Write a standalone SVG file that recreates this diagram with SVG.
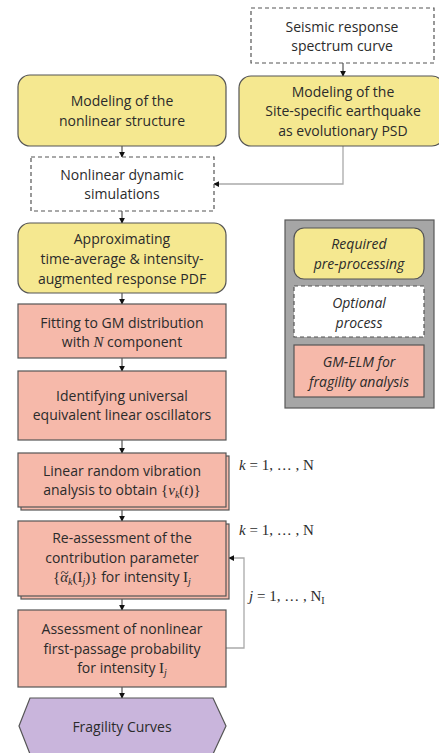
<svg xmlns="http://www.w3.org/2000/svg" width="439" height="753" viewBox="0 0 439 753">
<style>
.t{font-family:"Open Sans","Noto Sans",sans-serif;font-size:14px;fill:#2b2b2b;text-anchor:middle}
.it{font-style:italic}
.s{font-family:"Liberation Serif","DejaVu Serif",serif;font-size:15px}
.m{font-family:"Liberation Serif","DejaVu Serif",serif;font-size:15px;fill:#2b2b2b}
.y{fill:#f5e890;stroke:#555;stroke-width:1.2}
.o{fill:#fff;stroke:#555;stroke-width:1.2;stroke-dasharray:4 3}
.p{fill:#f6b9aa;stroke:#555;stroke-width:1.2}
.c{fill:none;stroke:#333;stroke-width:1}
.g{fill:none;stroke:#aaa;stroke-width:1.3}
</style>
<defs>
<marker id="a" viewBox="0 0 8 8" refX="7" refY="4" markerWidth="6" markerHeight="6" orient="auto" markerUnits="userSpaceOnUse"><path d="M0,0L8,4L0,8z" fill="#111"/></marker>
</defs>
<g id="connectors">
<line class="c" x1="343" y1="63" x2="343" y2="76" marker-end="url(#a)"/>
<line class="c" x1="122" y1="146" x2="122" y2="157" marker-end="url(#a)"/>
<polyline class="g" points="343,146 343,184 214,184" marker-end="url(#a)"/>
<line class="c" x1="122" y1="211" x2="122" y2="223" marker-end="url(#a)"/>
<line class="c" x1="122" y1="293" x2="122" y2="304" marker-end="url(#a)"/>
<line class="c" x1="122" y1="358" x2="122" y2="371" marker-end="url(#a)"/>
<line class="c" x1="122" y1="440" x2="122" y2="453" marker-end="url(#a)"/>
<line class="c" x1="122" y1="509" x2="122" y2="521" marker-end="url(#a)"/>
<line class="c" x1="122" y1="598" x2="122" y2="610" marker-end="url(#a)"/>
<line class="c" x1="122" y1="687" x2="122" y2="698" marker-end="url(#a)"/>
<polyline class="g" points="226,648 244,648 244,558 229,558" marker-end="url(#a)"/>
</g>
<g id="seismic">
<rect class="o" x="251" y="8" width="183" height="55"/>
<text class="t" x="342" y="32">Seismic response</text>
<text class="t" x="342" y="51">spectrum curve</text>
</g>
<g id="structure">
<rect class="y" x="18" y="75" width="208" height="71" rx="12"/>
<text class="t" x="122" y="106">Modeling of the</text>
<text class="t" x="122" y="126">nonlinear structure</text>
</g>
<g id="earthquake">
<rect class="y" x="239" y="76" width="205" height="70" rx="12"/>
<text class="t" x="343" y="97">Modeling of the</text>
<text class="t" x="343" y="116">Site-specific earthquake</text>
<text class="t" x="343" y="136">as evolutionary PSD</text>
</g>
<g id="simulations">
<rect class="o" x="31" y="157" width="183" height="54"/>
<text class="t" x="122" y="180">Nonlinear dynamic</text>
<text class="t" x="122" y="199">simulations</text>
</g>
<g id="approx">
<rect class="y" x="18" y="223" width="208" height="70" rx="12"/>
<text class="t" x="122" y="244">Approximating</text>
<text class="t" x="122" y="264">time-average &amp; intensity-</text>
<text class="t" x="122" y="284">augmented response PDF</text>
</g>
<g id="fitting">
<rect class="p" x="18" y="304" width="208" height="54"/>
<text class="t" x="122" y="328">Fitting to GM distribution</text>
<text class="t" x="122" y="347">with <tspan class="s it">N</tspan> component</text>
</g>
<g id="identifying">
<rect class="p" x="18" y="371" width="208" height="69"/>
<text class="t" x="122" y="401">Identifying universal</text>
<text class="t" x="122" y="420">equivalent linear oscillators</text>
</g>
<g id="linear">
<rect class="p" x="21" y="456" width="208" height="54"/>
<rect class="p" x="18" y="453" width="208" height="54"/>
<text class="t" x="122" y="476">Linear random vibration</text>
<text class="t" x="122" y="495">analysis to obtain <tspan class="s">{<tspan class="it">v</tspan><tspan class="it" font-size="10" dy="3">k</tspan><tspan dy="-3">(</tspan><tspan class="it">t</tspan>)}</tspan></text>
<text class="m" x="239" y="470"><tspan class="it">k</tspan> = 1, … , N</text>
</g>
<g id="reassess">
<rect class="p" x="21" y="524" width="208" height="75"/>
<rect class="p" x="18" y="521" width="208" height="75"/>
<text class="t" x="122" y="543">Re-assessment of the</text>
<text class="t" x="122" y="563">contribution parameter</text>
<text class="t" x="53" y="582" style="text-anchor:start"><tspan class="s">{<tspan class="it">α</tspan><tspan class="it" font-size="10" dy="3">k</tspan><tspan dy="-3">(I</tspan><tspan class="it" font-size="10" dy="3">j</tspan><tspan dy="-3">)}</tspan></tspan> for intensity <tspan class="s">I<tspan class="it" font-size="10" dy="3">j</tspan></tspan></text>
<text class="m" x="64.5" y="578" text-anchor="middle" font-size="11">~</text>
<text class="m" x="239" y="535"><tspan class="it">k</tspan> = 1, … , N</text>
</g>
<text class="m" x="249" y="601" id="jlabel"><tspan class="it">j</tspan> = 1, … , N<tspan font-size="10" dy="3">I</tspan></text>
<g id="assess">
<rect class="p" x="18" y="610" width="208" height="77"/>
<text class="t" x="122" y="634">Assessment of nonlinear</text>
<text class="t" x="122" y="654">first-passage probability</text>
<text class="t" x="122" y="673">for intensity <tspan class="s">I<tspan class="it" font-size="10" dy="3">j</tspan></tspan></text>
</g>
<g id="fragility">
<polygon points="30,698 213,698 226,726 213,754 30,754 19,726" fill="#c9b5dc" stroke="#555" stroke-width="1.2"/>
<text class="t" x="122" y="732">Fragility Curves</text>
</g>
<g id="legend">
<rect x="285" y="220" width="149" height="188" fill="#a6a6a6" stroke="#595959" stroke-width="1.2"/>
<rect class="y" x="294" y="228" width="130" height="51" rx="10"/>
<text class="t it" x="359" y="249">Required</text>
<text class="t it" x="359" y="269">pre-processing</text>
<rect class="o" x="294" y="286" width="130" height="51"/>
<text class="t it" x="359" y="308">Optional</text>
<text class="t it" x="359" y="328">process</text>
<rect class="p" x="294" y="345" width="130" height="52"/>
<text class="t it" x="359" y="367">GM-ELM for</text>
<text class="t it" x="359" y="387">fragility analysis</text>
</g>
</svg>
